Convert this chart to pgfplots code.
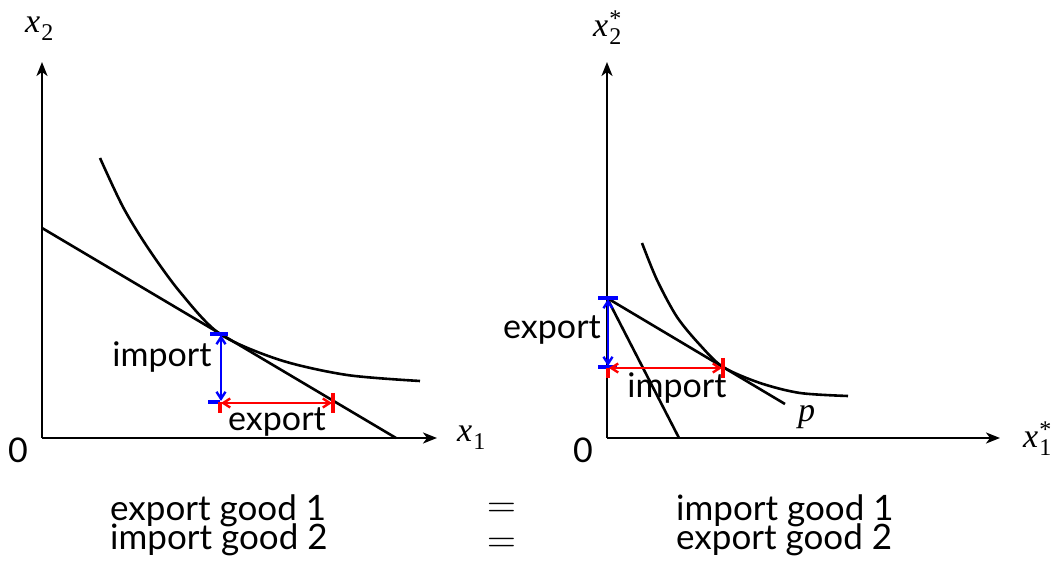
\documentclass[border=0pt]{standalone}
\usepackage{fontspec}
\setmainfont{Lato}
\newfontfamily\tms{Liberation Serif}
\newfontfamily\lmr{Latin Modern Roman}
\usepackage{pgfplots}
\pgfplotsset{compat=1.18}
\usetikzlibrary{arrows.meta}
\newcommand{\mx}[2]{{\tms\itshape x}\kern1pt\raisebox{-8pt}{\makebox[0pt][l]{\tms\fontsize{24}{24}\selectfont #2}}\raisebox{10pt}{\tms\fontsize{24}{24}\selectfont #1}}
\tikzset{
  lbl/.style={font=\fontsize{34}{36}\selectfont, inner sep=0pt},
  blbl/.style={font=\fontsize{35}{36}\selectfont, inner sep=0pt, anchor=base west},
  mlbl/.style={font=\fontsize{34}{36}\selectfont\tms, inner sep=0pt, anchor=base west},
  dbl/.style={{Straight Barb[length=7pt,width=9pt]}-{Straight Barb[length=7pt,width=9pt]}},
}
\pgfplotsset{
  econ/.style={
    scale only axis, anchor=south west,
    axis lines=left, xtick=\empty, ytick=\empty,
    axis line style={line width=2pt, -{Stealth[length=14pt,width=11pt,inset=4pt]}},
    xmin=0, ymin=0, ymax=376, clip=false,
  },
}
\begin{document}
\begin{tikzpicture}
\useasboundingbox (0,0) rectangle (1054pt,561pt);
% left diagram
\begin{axis}[econ, at={(42pt,123pt)}, width=395pt, height=376pt, xmax=395]
\addplot[black, no marks, line width=2.6pt] coordinates {(0,210) (354,0)};
\addplot[black, no marks, smooth, line width=2.6pt] coordinates {(58,280) (81,231) (106,190) (138,146) (178,104) (238,78) (305,63) (378,57)};
\addplot[blue, no marks, line width=2.4pt, dbl] coordinates {(179,103) (179,37)};
\addplot[blue, no marks, line width=3.2pt] coordinates {(168,104) (186,104)};
\addplot[blue, no marks, line width=3.2pt] coordinates {(166,36) (178,36)};
\addplot[red, no marks, line width=2.4pt, dbl] coordinates {(179,35) (290,35)};
\addplot[red, no marks, line width=3.2pt] coordinates {(178,36) (178,25)};
\addplot[red, no marks, line width=3.2pt] coordinates {(291,45) (291,25)};
\node[lbl] at (axis cs:120,81) {import};
\node[lbl] at (axis cs:235,16) {export};
\node[mlbl] at (axis cs:-17,405) {\mx{}{2}};
\node[mlbl] at (axis cs:415,-4) {\mx{}{1}};
\node[lbl] at (axis cs:-24,-12) {0};
\end{axis}
% right diagram
\begin{axis}[econ, at={(607pt,123pt)}, width=393pt, height=376pt, xmax=393]
\addplot[black, no marks, line width=2.6pt] coordinates {(0,140) (72,0)};
\addplot[black, no marks, line width=2.6pt] coordinates {(0,140) (178,34)};
\addplot[black, no marks, smooth, line width=2.6pt] coordinates {(35,195) (50,158) (70,121) (93,93) (116,71) (153,55) (193,45) (241,42)};
\addplot[blue, no marks, line width=2.4pt, dbl] coordinates {(1,139) (1,72)};
\addplot[blue, no marks, line width=3.2pt] coordinates {(-9,140) (11,140)};
\addplot[blue, no marks, line width=3.2pt] coordinates {(-9,71) (10,71)};
\addplot[red, no marks, line width=2.4pt, dbl] coordinates {(2,70) (115,70)};
\addplot[red, no marks, line width=3.2pt] coordinates {(1,70) (1,60)};
\addplot[red, no marks, line width=3.2pt] coordinates {(116,80) (116,60)};
\node[lbl] at (axis cs:-55,108) {export};
\node[lbl] at (axis cs:70,50) {import};
\node[mlbl] at (axis cs:191,16) {\itshape p};
\node[mlbl] at (axis cs:-14,401) {\mx{*}{2}};
\node[mlbl] at (axis cs:416,-10) {\mx{*}{1}};
\node[lbl] at (axis cs:-24,-12) {0};
\end{axis}
% bottom text
\node[blbl] at (110pt,40pt) {export good 1};
\node[blbl] at (110pt,11pt) {import good 2};
\node[inner sep=0pt, font=\fontsize{40}{40}\selectfont\lmr, anchor=base] at (502pt,43pt) {=};
\node[inner sep=0pt, font=\fontsize{40}{40}\selectfont\lmr, anchor=base] at (502pt,8pt) {=};
\node[blbl] at (676pt,40pt) {import good 1};
\node[blbl] at (676pt,11pt) {export good 2};
\end{tikzpicture}
\end{document}
